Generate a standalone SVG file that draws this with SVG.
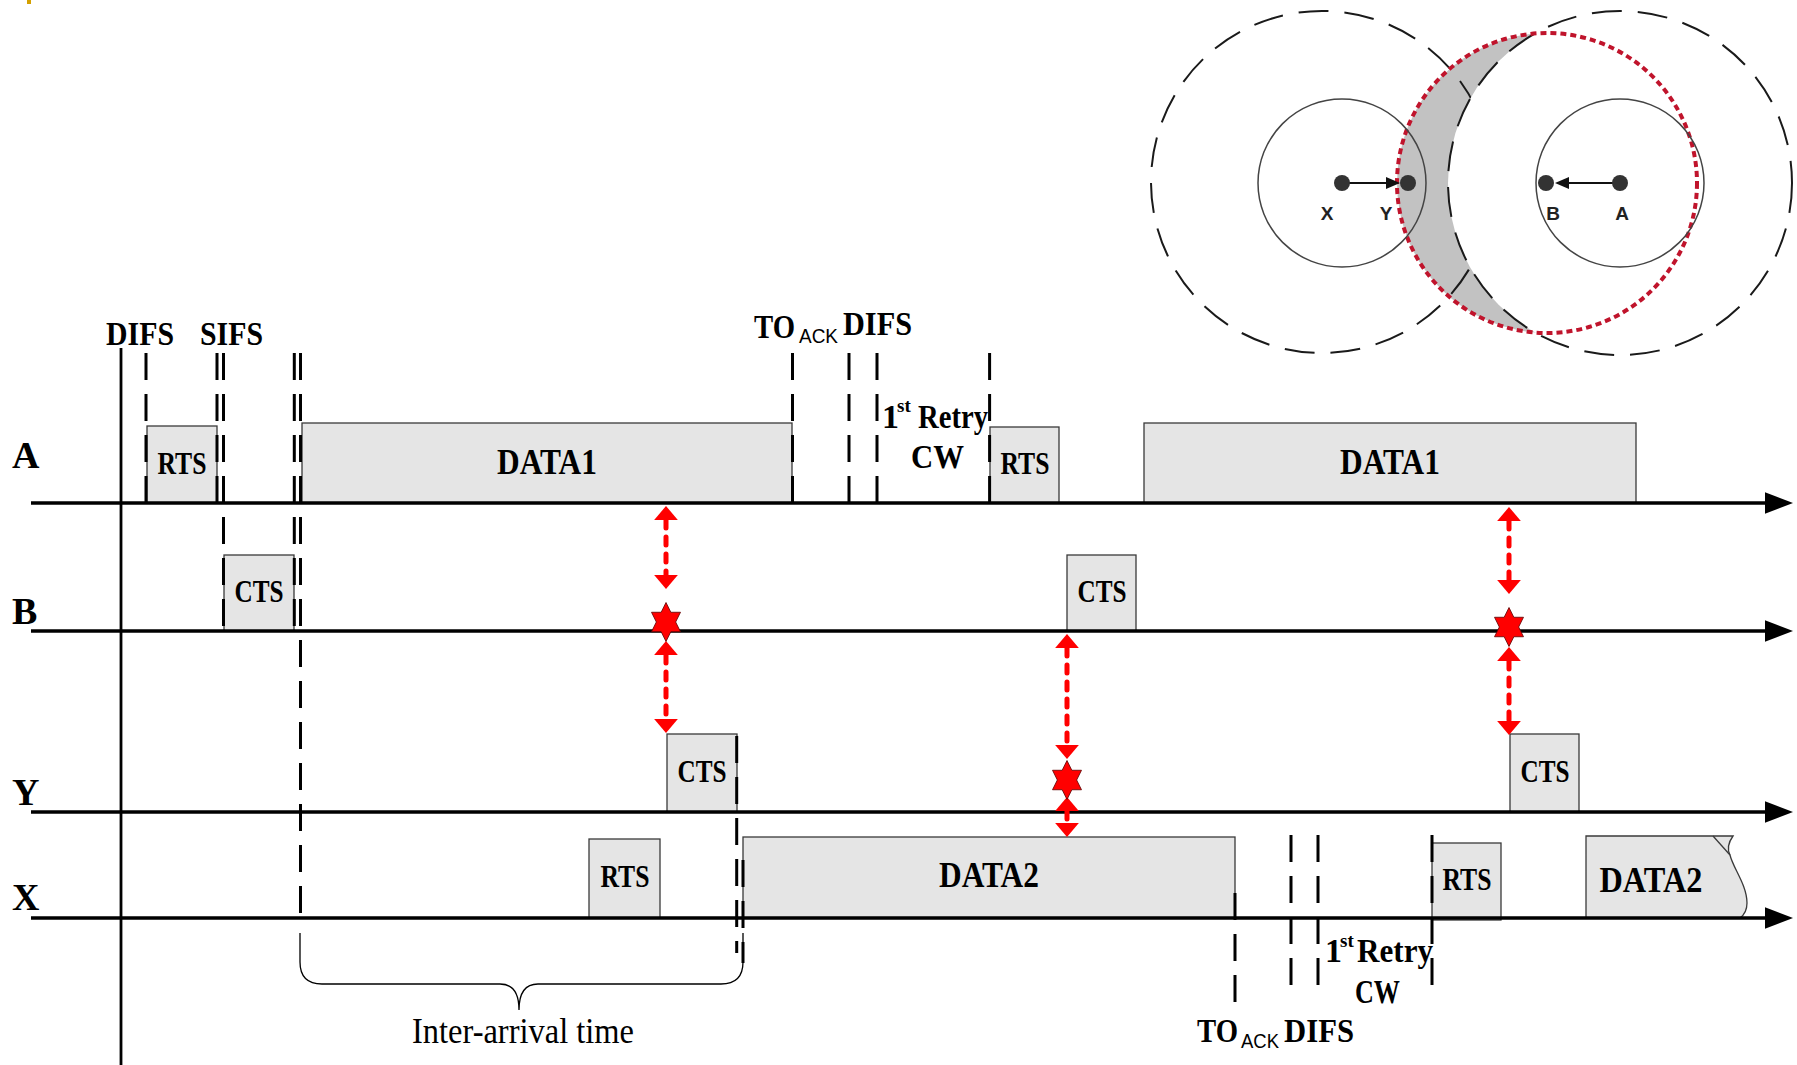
<svg xmlns="http://www.w3.org/2000/svg" width="1797" height="1065" viewBox="0 0 1797 1065">
<style>
.bg{fill:#ffffff}
.box{fill:#e5e5e5;stroke:#3a3a3a;stroke-width:1.3}
.axis{stroke:#000;stroke-width:3.6;fill:none}
.vline{stroke:#000;stroke-width:2.8;fill:none}
.dash{stroke:#000;stroke-width:3;stroke-dasharray:27 14;fill:none}
.red{stroke:#ff0000;stroke-width:5;stroke-dasharray:8 9;stroke-linecap:round;fill:none}
.star{fill:#ff0000;stroke:#5a0000;stroke-width:0.8}
.t{font-family:"Liberation Serif","Times New Roman",serif;font-weight:bold;fill:#000}
.tb{font-size:31px;text-anchor:middle}
.td{font-size:35px;text-anchor:middle}
.tl{font-size:34px}
.ax{font-size:38px}
.sub{font-family:"Liberation Sans",Arial,sans-serif;font-size:20px;fill:#000}
.sup{font-size:19px}
.reg{font-family:"Liberation Serif","Times New Roman",serif;font-size:35px;fill:#000}
.brace{stroke:#000;stroke-width:1.3;fill:none}
.bigc{fill:none;stroke:#1a1a1a;stroke-width:2;stroke-dasharray:30 16}
.bigw{fill:#ffffff;stroke:#1a1a1a;stroke-width:2;stroke-dasharray:30 16}
.smallc{fill:none;stroke:#444;stroke-width:1.5}
.dot{fill:#333}
.nl{font-family:"Liberation Sans",Arial,sans-serif;font-weight:bold;font-size:19px;fill:#222;text-anchor:middle}
</style>
<defs>
<marker id="axhead" markerUnits="userSpaceOnUse" markerWidth="28" markerHeight="22" viewBox="0 0 26 20" refX="0" refY="10" orient="auto">
<path d="M0,0 L26,10 L0,20 Z" fill="#000"/>
</marker>
<marker id="redhead" markerUnits="userSpaceOnUse" markerWidth="14" markerHeight="24" viewBox="0 0 13 22" refX="0" refY="11" orient="auto-start-reverse">
<path d="M0,0 L13,11 L0,22 Z" fill="#ff0000"/>
</marker>
<marker id="smallhead" markerUnits="userSpaceOnUse" markerWidth="14" markerHeight="14" viewBox="0 0 14 12" refX="0" refY="6" orient="auto">
<path d="M0,0 L14,6 L0,12 Z" fill="#111"/>
</marker>
<path id="hexagram" d="M0,-19.5 L4.83,-9.75 L14.5,-9.75 L9.67,0 L14.5,9.75 L4.83,9.75 L0,19.5 L-4.83,9.75 L-14.5,9.75 L-9.67,0 L-14.5,-9.75 L-4.83,-9.75 Z"/>
</defs>
<rect class="bg" x="0" y="0" width="1797" height="1065"/>

<rect x="27" y="0" width="4" height="4" fill="#d4a000"/>

<!-- coverage circles diagram -->
<g id="coverage">
<circle cx="1547" cy="183" r="150" fill="#c2c2c2"/>
<circle class="bigc" cx="1322" cy="182" r="171"/>
<circle class="bigw" cx="1620" cy="183" r="172"/>
<circle cx="1547" cy="183" r="150" fill="none" stroke="#c0142c" stroke-width="4" stroke-dasharray="6 4"/>
<circle class="smallc" cx="1342" cy="183" r="84"/>
<circle class="smallc" cx="1620" cy="183" r="84"/>
<line x1="1342" y1="183" x2="1386" y2="183" stroke="#111" stroke-width="2" marker-end="url(#smallhead)"/>
<line x1="1620" y1="183" x2="1569" y2="183" stroke="#111" stroke-width="2" marker-end="url(#smallhead)"/>
<g id="node-X-pos"><circle class="dot" cx="1342" cy="183" r="8"/><text class="nl" x="1327" y="220">X</text></g>
<g id="node-Y-pos"><circle class="dot" cx="1408" cy="183" r="8"/><text class="nl" x="1386" y="220">Y</text></g>
<g id="node-B-pos"><circle class="dot" cx="1546" cy="183" r="8"/><text class="nl" x="1553" y="220">B</text></g>
<g id="node-A-pos"><circle class="dot" cx="1620" cy="183" r="8"/><text class="nl" x="1622" y="220">A</text></g>
</g>

<!-- frame boxes -->
<g id="rts-a1"><rect class="box" x="147" y="426" width="70" height="77"/><text class="t tb" x="182" y="474" textLength="49" lengthAdjust="spacingAndGlyphs">RTS</text></g>
<g id="data1-a1"><rect class="box" x="302" y="423" width="490" height="80"/><text class="t td" x="547" y="474" textLength="100" lengthAdjust="spacingAndGlyphs">DATA1</text></g>
<g id="rts-a2"><rect class="box" x="990" y="427" width="69" height="76"/><text class="t tb" x="1025" y="474" textLength="49" lengthAdjust="spacingAndGlyphs">RTS</text></g>
<g id="data1-a2"><rect class="box" x="1144" y="423" width="492" height="80"/><text class="t td" x="1390" y="474" textLength="100" lengthAdjust="spacingAndGlyphs">DATA1</text></g>
<g id="cts-b1"><rect class="box" x="224" y="555" width="70" height="76"/><text class="t tb" x="259" y="602" textLength="49" lengthAdjust="spacingAndGlyphs">CTS</text></g>
<g id="cts-b2"><rect class="box" x="1067" y="555" width="69" height="76"/><text class="t tb" x="1102" y="602" textLength="49" lengthAdjust="spacingAndGlyphs">CTS</text></g>
<g id="cts-y1"><rect class="box" x="667" y="734" width="70" height="78"/><text class="t tb" x="702" y="782" textLength="49" lengthAdjust="spacingAndGlyphs">CTS</text></g>
<g id="cts-y2"><rect class="box" x="1510" y="734" width="69" height="78"/><text class="t tb" x="1545" y="782" textLength="49" lengthAdjust="spacingAndGlyphs">CTS</text></g>
<g id="rts-x1"><rect class="box" x="589" y="839" width="71" height="79"/><text class="t tb" x="625" y="887" textLength="49" lengthAdjust="spacingAndGlyphs">RTS</text></g>
<g id="data2-x1"><rect class="box" x="743" y="837" width="492" height="81"/><text class="t td" x="989" y="887" textLength="100" lengthAdjust="spacingAndGlyphs">DATA2</text></g>
<g id="rts-x2"><rect class="box" x="1432" y="843" width="69" height="77"/><text class="t tb" x="1467" y="890" textLength="49" lengthAdjust="spacingAndGlyphs">RTS</text></g>
<g id="data2-x2"><path class="box" d="M1586,918 L1586,836 L1733,836 C1728,843 1727,849 1730,855 C1733,868 1747,885 1747,903 C1747,911 1744,915 1740,918 Z"/><path d="M1713,836 L1730,855" stroke="#3a3a3a" stroke-width="1.3" fill="none"/><text class="t td" x="1651" y="892" textLength="103" lengthAdjust="spacingAndGlyphs">DATA2</text></g>

<!-- time axes -->
<g id="axes">
<line class="axis" x1="31" y1="503" x2="1765" y2="503" marker-end="url(#axhead)"/>
<line class="axis" x1="31" y1="631" x2="1765" y2="631" marker-end="url(#axhead)"/>
<line class="axis" x1="31" y1="812" x2="1765" y2="812" marker-end="url(#axhead)"/>
<line class="axis" x1="31" y1="918" x2="1765" y2="918" marker-end="url(#axhead)"/>
<line class="vline" x1="121" y1="348" x2="121" y2="1065"/>
</g>

<!-- station labels -->
<g id="station-labels">
<text class="t ax" x="12" y="468">A</text>
<text class="t ax" x="12" y="624">B</text>
<text class="t ax" x="12" y="805">Y</text>
<text class="t ax" x="12" y="910">X</text>
</g>

<!-- connectors: timing markers and interference arrows -->
<g id="connectors">
<line class="dash" x1="146" y1="353" x2="146" y2="503"/>
<line class="dash" x1="217" y1="353" x2="217" y2="503"/>
<line class="dash" x1="223.5" y1="353" x2="223.5" y2="631"/>
<line class="dash" x1="294.3" y1="353" x2="294.3" y2="631"/>
<line class="dash" x1="300.5" y1="353" x2="300.5" y2="918"/>
<line class="dash" x1="792.5" y1="353" x2="792.5" y2="503"/>
<line class="dash" x1="849" y1="353" x2="849" y2="503"/>
<line class="dash" x1="877" y1="353" x2="877" y2="503"/>
<line class="dash" x1="989.6" y1="353" x2="989.6" y2="503"/>
<line class="dash" x1="736.7" y1="736" x2="736.7" y2="953"/>
<line class="dash" x1="743" y1="860" x2="743" y2="963"/>
<line class="dash" x1="1235" y1="893" x2="1235" y2="1002"/>
<line class="dash" x1="1291" y1="835" x2="1291" y2="987"/>
<line class="dash" x1="1318" y1="835" x2="1318" y2="987"/>
<line class="dash" x1="1432" y1="835" x2="1432" y2="987"/>

<path class="brace" d="M300,933 L300,962 Q300,984 322,984 L500,984 Q519,984 519,1010 Q519,984 538,984 L721,984 Q743,984 743,962 L743,933"/>

<line class="red" x1="666" y1="520" x2="666" y2="575" marker-start="url(#redhead)" marker-end="url(#redhead)"/>
<line class="red" x1="666" y1="655" x2="666" y2="719" marker-start="url(#redhead)" marker-end="url(#redhead)"/>
<line class="red" x1="1067" y1="648" x2="1067" y2="745" marker-start="url(#redhead)" marker-end="url(#redhead)"/>
<line class="red" x1="1067" y1="811" x2="1067" y2="823" marker-start="url(#redhead)" marker-end="url(#redhead)"/>
<line class="red" x1="1509" y1="521" x2="1509" y2="580" marker-start="url(#redhead)" marker-end="url(#redhead)"/>
<line class="red" x1="1509" y1="661" x2="1509" y2="721" marker-start="url(#redhead)" marker-end="url(#redhead)"/>
<use href="#hexagram" class="star" x="666" y="622"/>
<use href="#hexagram" class="star" x="1067" y="780"/>
<use href="#hexagram" class="star" x="1509" y="627"/>
</g>

<!-- interval labels -->
<g id="interval-labels">
<text class="t tl" x="106" y="345" textLength="68" lengthAdjust="spacingAndGlyphs">DIFS</text>
<text class="t tl" x="200" y="345" textLength="63" lengthAdjust="spacingAndGlyphs">SIFS</text>

<text class="t tl" x="754" y="338" textLength="41" lengthAdjust="spacingAndGlyphs">TO</text>
<text class="sub" x="799" y="343" textLength="39" lengthAdjust="spacingAndGlyphs">ACK</text>
<text class="t tl" x="843" y="335" textLength="69" lengthAdjust="spacingAndGlyphs">DIFS</text>
<text class="t tl" x="882" y="428">1</text>
<text class="t sup" x="897" y="412">st</text>
<text class="t tl" x="918" y="428" textLength="70" lengthAdjust="spacingAndGlyphs">Retry</text>
<text class="t tl" x="911" y="468" textLength="53" lengthAdjust="spacingAndGlyphs">CW</text>

<text class="t tl" x="1197" y="1042" textLength="41" lengthAdjust="spacingAndGlyphs">TO</text>
<text class="sub" x="1241" y="1048" textLength="38" lengthAdjust="spacingAndGlyphs">ACK</text>
<text class="t tl" x="1284" y="1042" textLength="70" lengthAdjust="spacingAndGlyphs">DIFS</text>
<text class="t tl" x="1325" y="962">1</text>
<text class="t sup" x="1340" y="947">st</text>
<text class="t tl" x="1357" y="962" textLength="76" lengthAdjust="spacingAndGlyphs">Retry</text>
<text class="t tl" x="1355" y="1003" textLength="45" lengthAdjust="spacingAndGlyphs">CW</text>

<text class="reg" x="412" y="1043" textLength="222" lengthAdjust="spacingAndGlyphs">Inter-arrival time</text>
</g>
</svg>
